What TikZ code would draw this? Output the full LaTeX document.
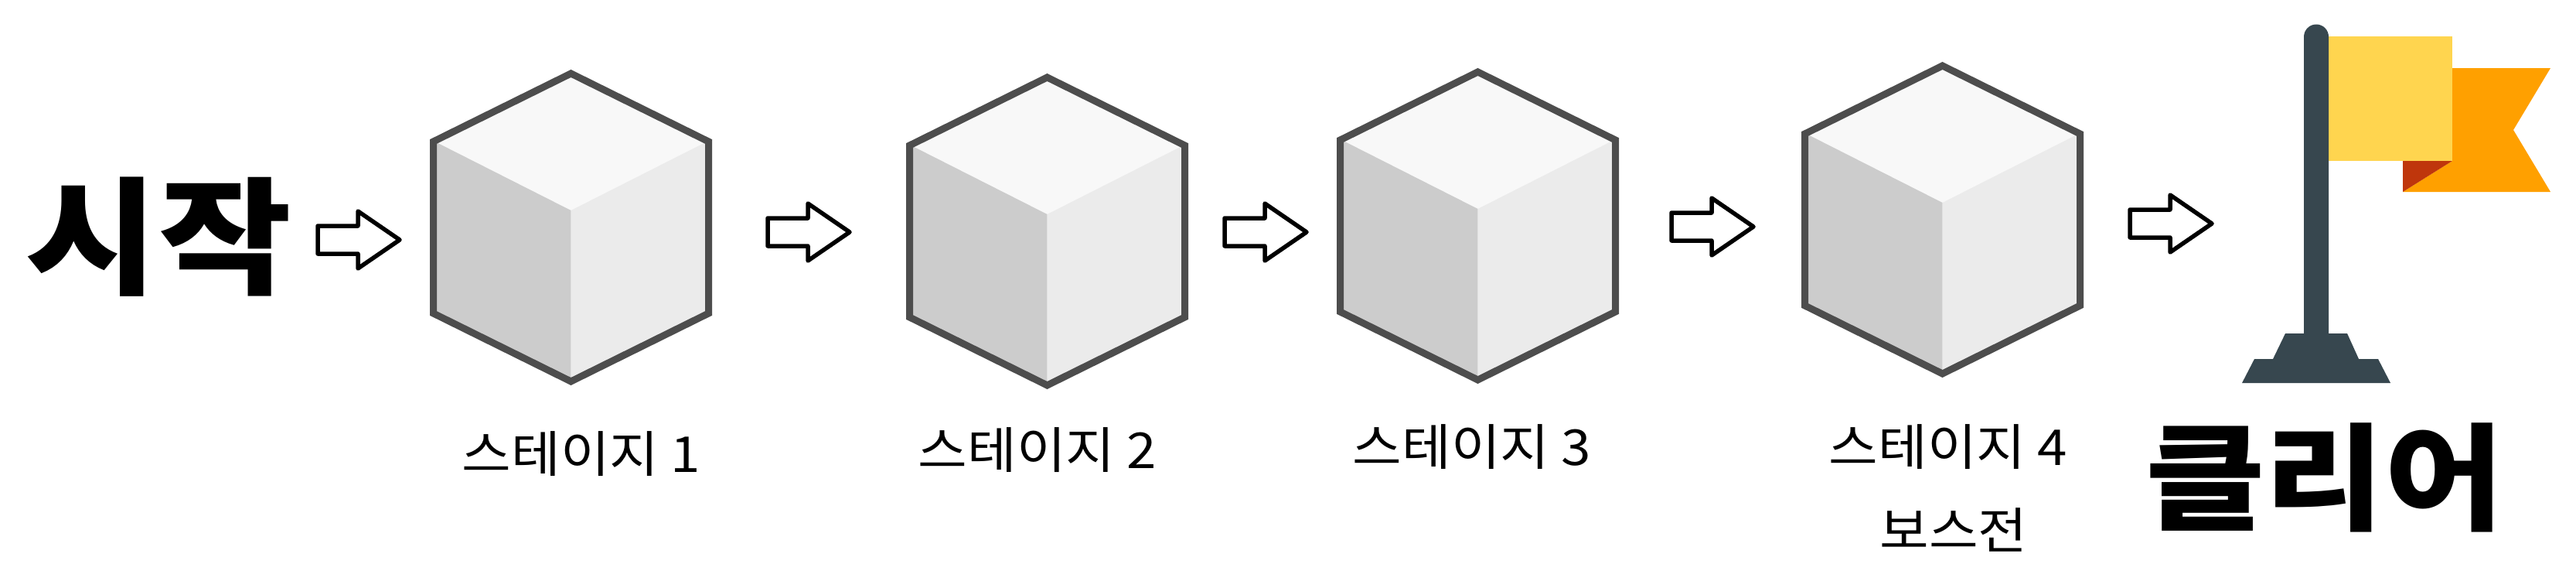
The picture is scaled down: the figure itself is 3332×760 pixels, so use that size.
\documentclass[tikz,border=0pt]{standalone}
\usepackage{fontspec}
\newfontfamily\kr{Noto Sans CJK KR}
\definecolor{edgegray}{HTML}{4D4D4D}
\definecolor{facetop}{HTML}{F8F8F8}
\definecolor{faceleft}{HTML}{CCCCCC}
\definecolor{faceright}{HTML}{EBEBEB}
\definecolor{poleblue}{HTML}{37474F}
\definecolor{flagyellow}{HTML}{FFD54F}
\definecolor{flagorange}{HTML}{FFA000}
\definecolor{flagred}{HTML}{BF360C}
\tikzset{
  x=1pt,y=-1pt,
  label text/.style={font=\kr\fontsize{64}{64}\selectfont,text=black,inner sep=0pt},
  big text/.style={font=\kr\bfseries\fontsize{164}{164}\selectfont,text=black,inner sep=0pt},
  clear text/.style={font=\kr\bfseries\fontsize{150}{150}\selectfont,text=black,inner sep=0pt},
  block arrow/.style={draw=black,fill=white,line width=5.5pt,line join=round},
  cube edge/.style={draw=edgegray,line width=9pt,line join=miter},
  pics/cubebox/.style={code={
    \fill[facetop] (0,-202)--(180,-112)--(0,-20)--(-180,-112)--cycle;
    \fill[faceleft] (-180,-112)--(0,-21)--(0,203)--(-180,113)--cycle;
    \fill[faceright] (180,-112)--(0,-21)--(0,203)--(180,113)--cycle;
    \draw[cube edge] (0,-198)--(178,-110)--(178,112)--(0,200)--(-178,112)--(-178,-110)--cycle;
  }}
}
\newcommand{\blockarrow}[3]{% left x, centre y, name
  \draw[block arrow] (#1,#2-18)--(#1+52,#2-18)--(#1+52,#2-37)--(#1+106,#2)--(#1+52,#2+37)--(#1+52,#2+18)--(#1,#2+18)--cycle;
  \coordinate (#3) at (#1+53,#2);
}
\begin{document}
\begin{tikzpicture}
\useasboundingbox (0,0) rectangle (3332,760);
\fill[white] (0,0) rectangle (3332,760);
\node[big text] (start) at (205,306) {\scalebox{1.14}[1]{시작}};
\pic at (738.5,293) {cubebox};
\pic at (1354.5,298) {cubebox};
\pic at (1911.5,291) {cubebox};
\pic at (2512.5,283) {cubebox};
\blockarrow{411}{310}{a1}
\blockarrow{993}{300}{a2}
\blockarrow{1584}{300}{a3}
\blockarrow{2162}{293}{a4}
\blockarrow{2755}{289}{a5}
\node[label text] (s1) at (752,587) {\scalebox{1.08}[1]{스테이지 1}};
\node[label text] (s2) at (1342,582) {\scalebox{1.08}[1]{스테이지 2}};
\node[label text] (s3) at (1904,578) {\scalebox{1.08}[1]{스테이지 3}};
\node[label text] (s4) at (2520,578) {\scalebox{1.08}[1]{스테이지 4}};
\node[label text] (boss) at (2527,685) {\scalebox{1.08}[1]{보스전}};
\node[clear text] (clear) at (3007,617) {\scalebox{1.12}[1]{클리어}};
% flag
\fill[flagorange] (3172,88)--(3299,88)--(3251,168)--(3299,248)--(3108,248)--(3172,208)--cycle;
\fill[flagred] (3108,208)--(3172,208)--(3108,248)--cycle;
\fill[flagyellow] (3012,47.5) rectangle (3172,208);
\fill[poleblue] (2980,431)--(2980,47.5) arc[start angle=180,end angle=360,radius=16]--(3012,431)--(3036,431)--(3051,464)--(3076,464)--(3092,495)--(2900,495)--(2916,464)--(2940,464)--(2956,431)--cycle;
\end{tikzpicture}
\end{document}
